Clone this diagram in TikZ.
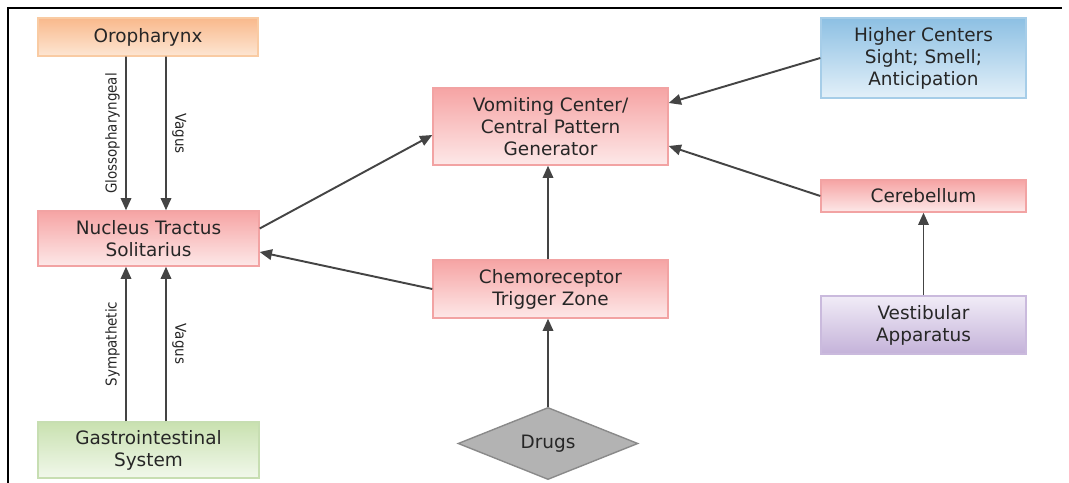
\documentclass[tikz,border=0pt]{standalone}
\usepackage{fontspec}
\setmainfont{DejaVu Sans}
\newfontfamily\narrowfont{DejaVu Sans Condensed}
\usetikzlibrary{shapes.geometric,arrows.meta}

\definecolor{textgray}{HTML}{262626}
\definecolor{linegray}{HTML}{444444}
\definecolor{pinkline}{HTML}{F2A3A3}
\definecolor{pinktop}{HTML}{F6A4A4}
\definecolor{pinkbot}{HTML}{FDE8E8}
\definecolor{orangeline}{HTML}{F9CBA3}
\definecolor{orangetop}{HTML}{F9B98C}
\definecolor{orangebot}{HTML}{FDE6D3}
\definecolor{greenline}{HTML}{C7DEB2}
\definecolor{greentop}{HTML}{C9E1B0}
\definecolor{greenbot}{HTML}{F1F8EB}
\definecolor{blueline}{HTML}{A6CDE8}
\definecolor{bluetop}{HTML}{8DC0E3}
\definecolor{bluebot}{HTML}{E3F0F9}
\definecolor{purpleline}{HTML}{CABADD}
\definecolor{purpletop}{HTML}{C4B2D9}
\definecolor{purplebot}{HTML}{F1ECF7}
\definecolor{drugfill}{HTML}{B3B3B3}
\definecolor{drugline}{HTML}{8A8A8A}

\begin{document}
\begin{tikzpicture}[x=0.02cm,y=-0.02cm,
  box/.style={draw,line width=0.8pt,align=center,text=textgray,inner sep=2pt,
    font=\fontsize{10.5}{12.5}\selectfont},
  pinkbox/.style={box,draw=pinkline,top color=pinktop,bottom color=pinkbot},
  orangebox/.style={box,draw=orangeline,top color=orangetop,bottom color=orangebot},
  greenbox/.style={box,draw=greenline,top color=greentop,bottom color=greenbot},
  bluebox/.style={box,draw=blueline,top color=bluetop,bottom color=bluebot},
  purplebox/.style={box,draw=purpleline,top color=purplebot,bottom color=purpletop},
  nerve/.style={-{Triangle[length=7pt,width=6pt]},line width=1.1pt,draw=linegray},
  nervelabel/.style={midway,text=textgray,inner sep=3pt,
    font=\narrowfont\fontsize{8.5}{10}\selectfont}]
\useasboundingbox (0,0) rectangle (1069,483);
\draw[line width=0.8pt] (8,483) -- (8,8) -- (1062,8);

% left column
\node[orangebox,minimum width=4.4cm,minimum height=0.76cm] (oro) at (148,37) {Oropharynx};
\node[pinkbox,minimum width=4.42cm,minimum height=1.1cm] (nts) at (148.5,238.5) {Nucleus Tractus\\Solitarius};
\node[greenbox,minimum width=4.42cm,minimum height=1.12cm] (gi) at (148.5,450) {Gastrointestinal\\System};

% middle column
\node[pinkbox,minimum width=4.7cm,minimum height=1.54cm] (vc) at (550.5,126.5) {Vomiting Center/\\Central Pattern\\Generator};
\node[pinkbox,minimum width=4.7cm,minimum height=1.16cm] (ctz) at (550.5,289) {Chemoreceptor\\Trigger Zone};
\node[diamond,draw=drugline,line width=0.8pt,fill=drugfill,text=textgray,inner sep=0pt,
  minimum width=3.6cm,minimum height=1.26cm,font=\fontsize{10.5}{12.5}\selectfont] (drugs) at (548,443.5) {Drugs};

% right column
\node[bluebox,minimum width=4.1cm,minimum height=1.6cm] (hc) at (923.5,58) {Higher Centers\\Sight; Smell;\\Anticipation};
\node[pinkbox,minimum width=4.1cm,minimum height=0.64cm] (cer) at (923.5,196) {Cerebellum};
\node[purplebox,minimum width=4.1cm,minimum height=1.16cm] (vest) at (923.5,325) {Vestibular\\Apparatus};

% nerves into NTS
\draw[nerve] ([xshift=-0.44cm]oro.south) -- ([xshift=-0.45cm]nts.north)
  node[nervelabel,rotate=90,anchor=south] {Glossopharyngeal};
\draw[nerve] ([xshift=0.36cm]oro.south) -- ([xshift=0.35cm]nts.north)
  node[nervelabel,rotate=-90,anchor=south] {Vagus};
\draw[nerve] ([xshift=-0.45cm]gi.north) -- ([xshift=-0.45cm]nts.south)
  node[nervelabel,rotate=90,anchor=south] {Sympathetic};
\draw[nerve] ([xshift=0.35cm]gi.north) -- ([xshift=0.35cm]nts.south)
  node[nervelabel,rotate=-90,anchor=south] {Vagus};

% pathways to the vomiting center
\draw[nerve] ([yshift=0.2cm]nts.east) -- ([yshift=-0.17cm]vc.west);
\draw[nerve] (ctz.west) -- ([yshift=-0.27cm]nts.east);
\draw[nerve] ([xshift=-0.05cm]ctz.north) -- ([xshift=-0.05cm]vc.south);
\draw[nerve] (drugs.north) -- ([xshift=-0.05cm]ctz.south);
\draw[nerve] (hc.west) -- ([yshift=0.47cm]vc.east);
\draw[nerve] (cer.west) -- ([yshift=-0.39cm]vc.east);
\draw[nerve] (vest.north) -- (cer.south);
\end{tikzpicture}
\end{document}
